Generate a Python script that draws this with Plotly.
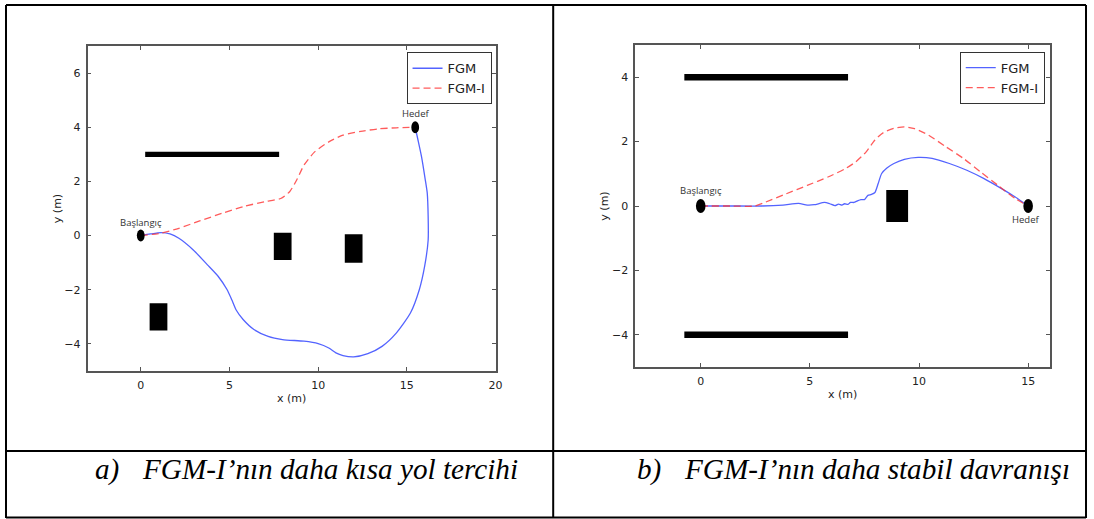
import plotly.graph_objects as go

# ---------------- data ----------------
# (a) FGM-I shorter path preference
a_fgm_x = [0, 0.54, 1.15, 1.65, 2.15, 2.96, 3.76, 4.37, 4.87, 5.13, 5.37, 5.77, 6.38, 7.18, 7.99,
           9.2, 10.0, 10.6, 11.0, 11.4, 12.0, 12.8, 13.6, 14.4, 15.2, 15.7, 16.0, 16.2, 16.2,
           16.15, 16.04, 15.83, 15.63, 15.47]
a_fgm_y = [0, 0.06, 0.11, 0.06, -0.1, -0.53, -1.08, -1.51, -2.0, -2.37, -2.74, -3.1, -3.47, -3.72,
           -3.84, -3.9, -3.99, -4.15, -4.33, -4.43, -4.48, -4.36, -4.09, -3.6, -2.86, -2.0, -1.14,
           -0.16, 0.7, 1.56, 2.05, 2.9, 3.52, 4.0]
a_fgmi_x = [0, 1.15, 2.15, 3.36, 4.57, 5.77, 6.98, 7.89, 8.39, 8.79, 9.2, 9.8, 10.6, 11.4, 12.4,
            13.4, 14.4, 15.47]
a_fgmi_y = [0, 0.09, 0.27, 0.55, 0.82, 1.07, 1.25, 1.37, 1.62, 2.05, 2.6, 3.09, 3.46, 3.71, 3.85,
            3.94, 3.98, 4.0]
a_obstacles = [  # (x0, x1, y0, y1)
    (0.25, 7.8, 2.9, 3.1),
    (7.5, 8.5, -0.9, 0.1),
    (11.5, 12.5, -1.0, 0.05),
    (0.5, 1.5, -3.5, -2.5),
]
a_start = (0.0, 0.0)
a_goal = (15.47, 4.0)

# (b) FGM-I more stable behaviour
b_fgm_x = [0, 1.38, 2.81, 3.77, 4.48, 4.88, 5.2, 5.67, 5.91, 6.15, 6.31, 6.47, 6.59, 6.75, 6.86,
           7.02, 7.18, 7.34, 7.5, 7.66, 7.82, 7.98, 8.13, 8.29, 8.53, 8.85, 9.33, 9.96, 10.6,
           11.39, 12.19, 12.98, 13.78, 14.41, 15.0]
b_fgm_y = [0, 0, 0, 0.03, 0.08, 0.03, 0.04, 0.11, 0.07, 0.01, 0.06, 0.03, 0.07, 0.05, 0.11,
           0.11, 0.16, 0.2, 0.2, 0.33, 0.36, 0.42, 0.7, 1.01, 1.18, 1.32, 1.45, 1.51, 1.48,
           1.32, 1.11, 0.85, 0.54, 0.28, 0.0]
b_fgmi_x = [0, 1.38, 2.49, 2.97, 3.92, 4.88, 5.83, 6.63, 7.1, 7.58, 7.98, 8.37, 8.85, 9.33, 9.8,
            10.44, 11.23, 12.03, 12.82, 13.62, 14.41, 15.0]
b_fgmi_y = [0, 0, 0, 0.12, 0.38, 0.64, 0.9, 1.16, 1.37, 1.68, 2.05, 2.28, 2.41, 2.46, 2.4,
            2.2, 1.84, 1.48, 1.06, 0.64, 0.23, 0.0]
b_obstacles = [
    (-0.75, 6.75, 3.9, 4.1),
    (-0.75, 6.75, -4.1, -3.9),
    (8.5, 9.5, -0.5, 0.5),
]
b_start = (0.0, 0.0)
b_goal = (15.0, 0.0)

a_xticks = [0, 5, 10, 15, 20]
a_yticks = [-4, -2, 0, 2, 4, 6]
b_xticks = [0, 5, 10, 15]
b_yticks = [-4, -2, 0, 2, 4]

series_names = ["FGM", "FGM-I"]
start_label = "Başlangıç"
goal_label = "Hedef"
caption_a = ("a)", "FGM-I’nın daha kısa yol tercihi")
caption_b = ("b)", "FGM-I’nın daha stabil davranışı")

# ---------------- figure ----------------
W, H = 1094, 519
SX = 1.0068  # horizontal calibration
BLUE = "rgba(40,60,255,0.8)"
RED = "rgba(255,50,50,0.8)"
FRAME = "#555555"
TXT = "#222222"
TICKFONT = dict(family="DejaVu Sans", size=11, color=TXT)

fig = go.Figure()

for xs, ys, name, col, dash, xa, ya, leg in [
    (a_fgm_x, a_fgm_y, series_names[0], BLUE, "solid", "x", "y", "legend"),
    (a_fgmi_x, a_fgmi_y, series_names[1], RED, "7px,4px", "x", "y", "legend"),
    (b_fgm_x, b_fgm_y, series_names[0], BLUE, "solid", "x2", "y2", "legend2"),
    (b_fgmi_x, b_fgmi_y, series_names[1], RED, "7px,4px", "x2", "y2", "legend2"),
]:
    fig.add_trace(go.Scatter(x=xs, y=ys, mode="lines", name=name, xaxis=xa, yaxis=ya,
                             legend=leg, line=dict(color=col, width=1.3, dash=dash,
                                                   shape="spline", smoothing=0.6)))

shapes = []
for obs, xr, yr in [(a_obstacles, "x", "y"), (b_obstacles, "x2", "y2")]:
    for x0, x1, y0, y1 in obs:
        shapes.append(dict(type="rect", xref=xr, yref=yr, x0=x0, x1=x1, y0=y0, y1=y1,
                           fillcolor="black", line=dict(width=0), layer="below"))

R = 0.22
for (cx, cy), xr, yr in [(a_start, "x", "y"), (a_goal, "x", "y"),
                         (b_start, "x2", "y2"), (b_goal, "x2", "y2")]:
    shapes.append(dict(type="circle", xref=xr, yref=yr, x0=cx - R, x1=cx + R,
                       y0=cy - R, y1=cy + R, fillcolor="black", line=dict(width=0)))

# table borders (pixel -> paper)
def px(x):
    return min(x * SX, 1093) / W

def py(y):
    return 1 - y / H

BORDER = dict(color="black", width=2)
for x0, y0, x1, y1 in [(6, 5, 1094, 5), (6, 517.5, 1094, 517.5), (6, 5, 6, 518),
                       (553, 5, 553, 518), (1094, 5, 1094, 518), (6, 451, 1094, 451)]:
    shapes.append(dict(type="line", xref="paper", yref="paper", x0=px(x0), y0=py(y0),
                       x1=px(x1), y1=py(y1), line=BORDER))

annotations = []
LBL = dict(family="Open Sans", size=9.5, color="#333333")
annotations += [
    dict(x=a_start[0], y=a_start[1] + 0.5, xref="x", yref="y", text=start_label,
         showarrow=False, font=LBL),
    dict(x=a_goal[0], y=a_goal[1] + 0.5, xref="x", yref="y", text=goal_label,
         showarrow=False, font=LBL),
    dict(x=b_start[0], y=b_start[1] + 0.48, xref="x2", yref="y2", text=start_label,
         showarrow=False, font=LBL),
    dict(x=b_goal[0] - 0.1, y=b_goal[1] - 0.42, xref="x2", yref="y2", text=goal_label,
         showarrow=False, font=LBL),
]
CAP = dict(family="Liberation Serif, Times New Roman, serif", size=29.2, color="black")
for (lab, txt), xl, xt in [(caption_a, 93, 140), (caption_b, 635, 682)]:
    annotations.append(dict(x=px(xl), y=py(469), xref="paper", yref="paper",
                            text="<i>" + lab + "</i>", showarrow=False, font=CAP,
                            xanchor="left", yanchor="middle"))
    annotations.append(dict(x=px(xt), y=py(469), xref="paper", yref="paper",
                            text="<i>" + txt + "</i>", showarrow=False, font=CAP,
                            xanchor="left", yanchor="middle"))

def axis(domain, rng, ticks, title, anchor, standoff):
    return dict(domain=domain, range=rng, tickvals=ticks, anchor=anchor,
                showgrid=False, zeroline=False, showline=True, linecolor=FRAME, linewidth=1.5,
                mirror="ticks", ticks="inside", ticklen=4, tickcolor=FRAME, tickwidth=1,
                tickfont=TICKFONT, ticklabelstandoff=3,
                title=dict(text=title, font=dict(family="DejaVu Sans", size=11, color=TXT),
                           standoff=standoff))

LEG = dict(bgcolor="white", bordercolor="#333333", borderwidth=1,
           font=dict(family="DejaVu Sans", size=13, color=TXT),
           xanchor="left", yanchor="top", tracegroupgap=0, itemwidth=30)

fig.update_layout(
    width=W, height=H, margin=dict(l=0, r=0, t=0, b=0),
    paper_bgcolor="white", plot_bgcolor="white",
    xaxis=axis([px(87.5), px(495.4)], [-3, 20], a_xticks, "x (m)", "y", 3),
    yaxis=axis([py(371), py(46)], [-5, 7], a_yticks, "y (m)", "x", 1),
    xaxis2=axis([px(635), px(1049.6)], [-3, 16], b_xticks, "x (m)", "y2", 3),
    yaxis2=axis([py(367), py(45)], [-5, 5], b_yticks, "y (m)", "x2", 1),
    legend=dict(LEG, x=px(406.4), y=py(52.3)),
    legend2=dict(LEG, x=px(959.4), y=py(51.7)),
    shapes=shapes, annotations=annotations, showlegend=True,
)

fig.write_html("out.html", config={"displayModeBar": False},
               post_script="document.body.style.margin='0px';")
